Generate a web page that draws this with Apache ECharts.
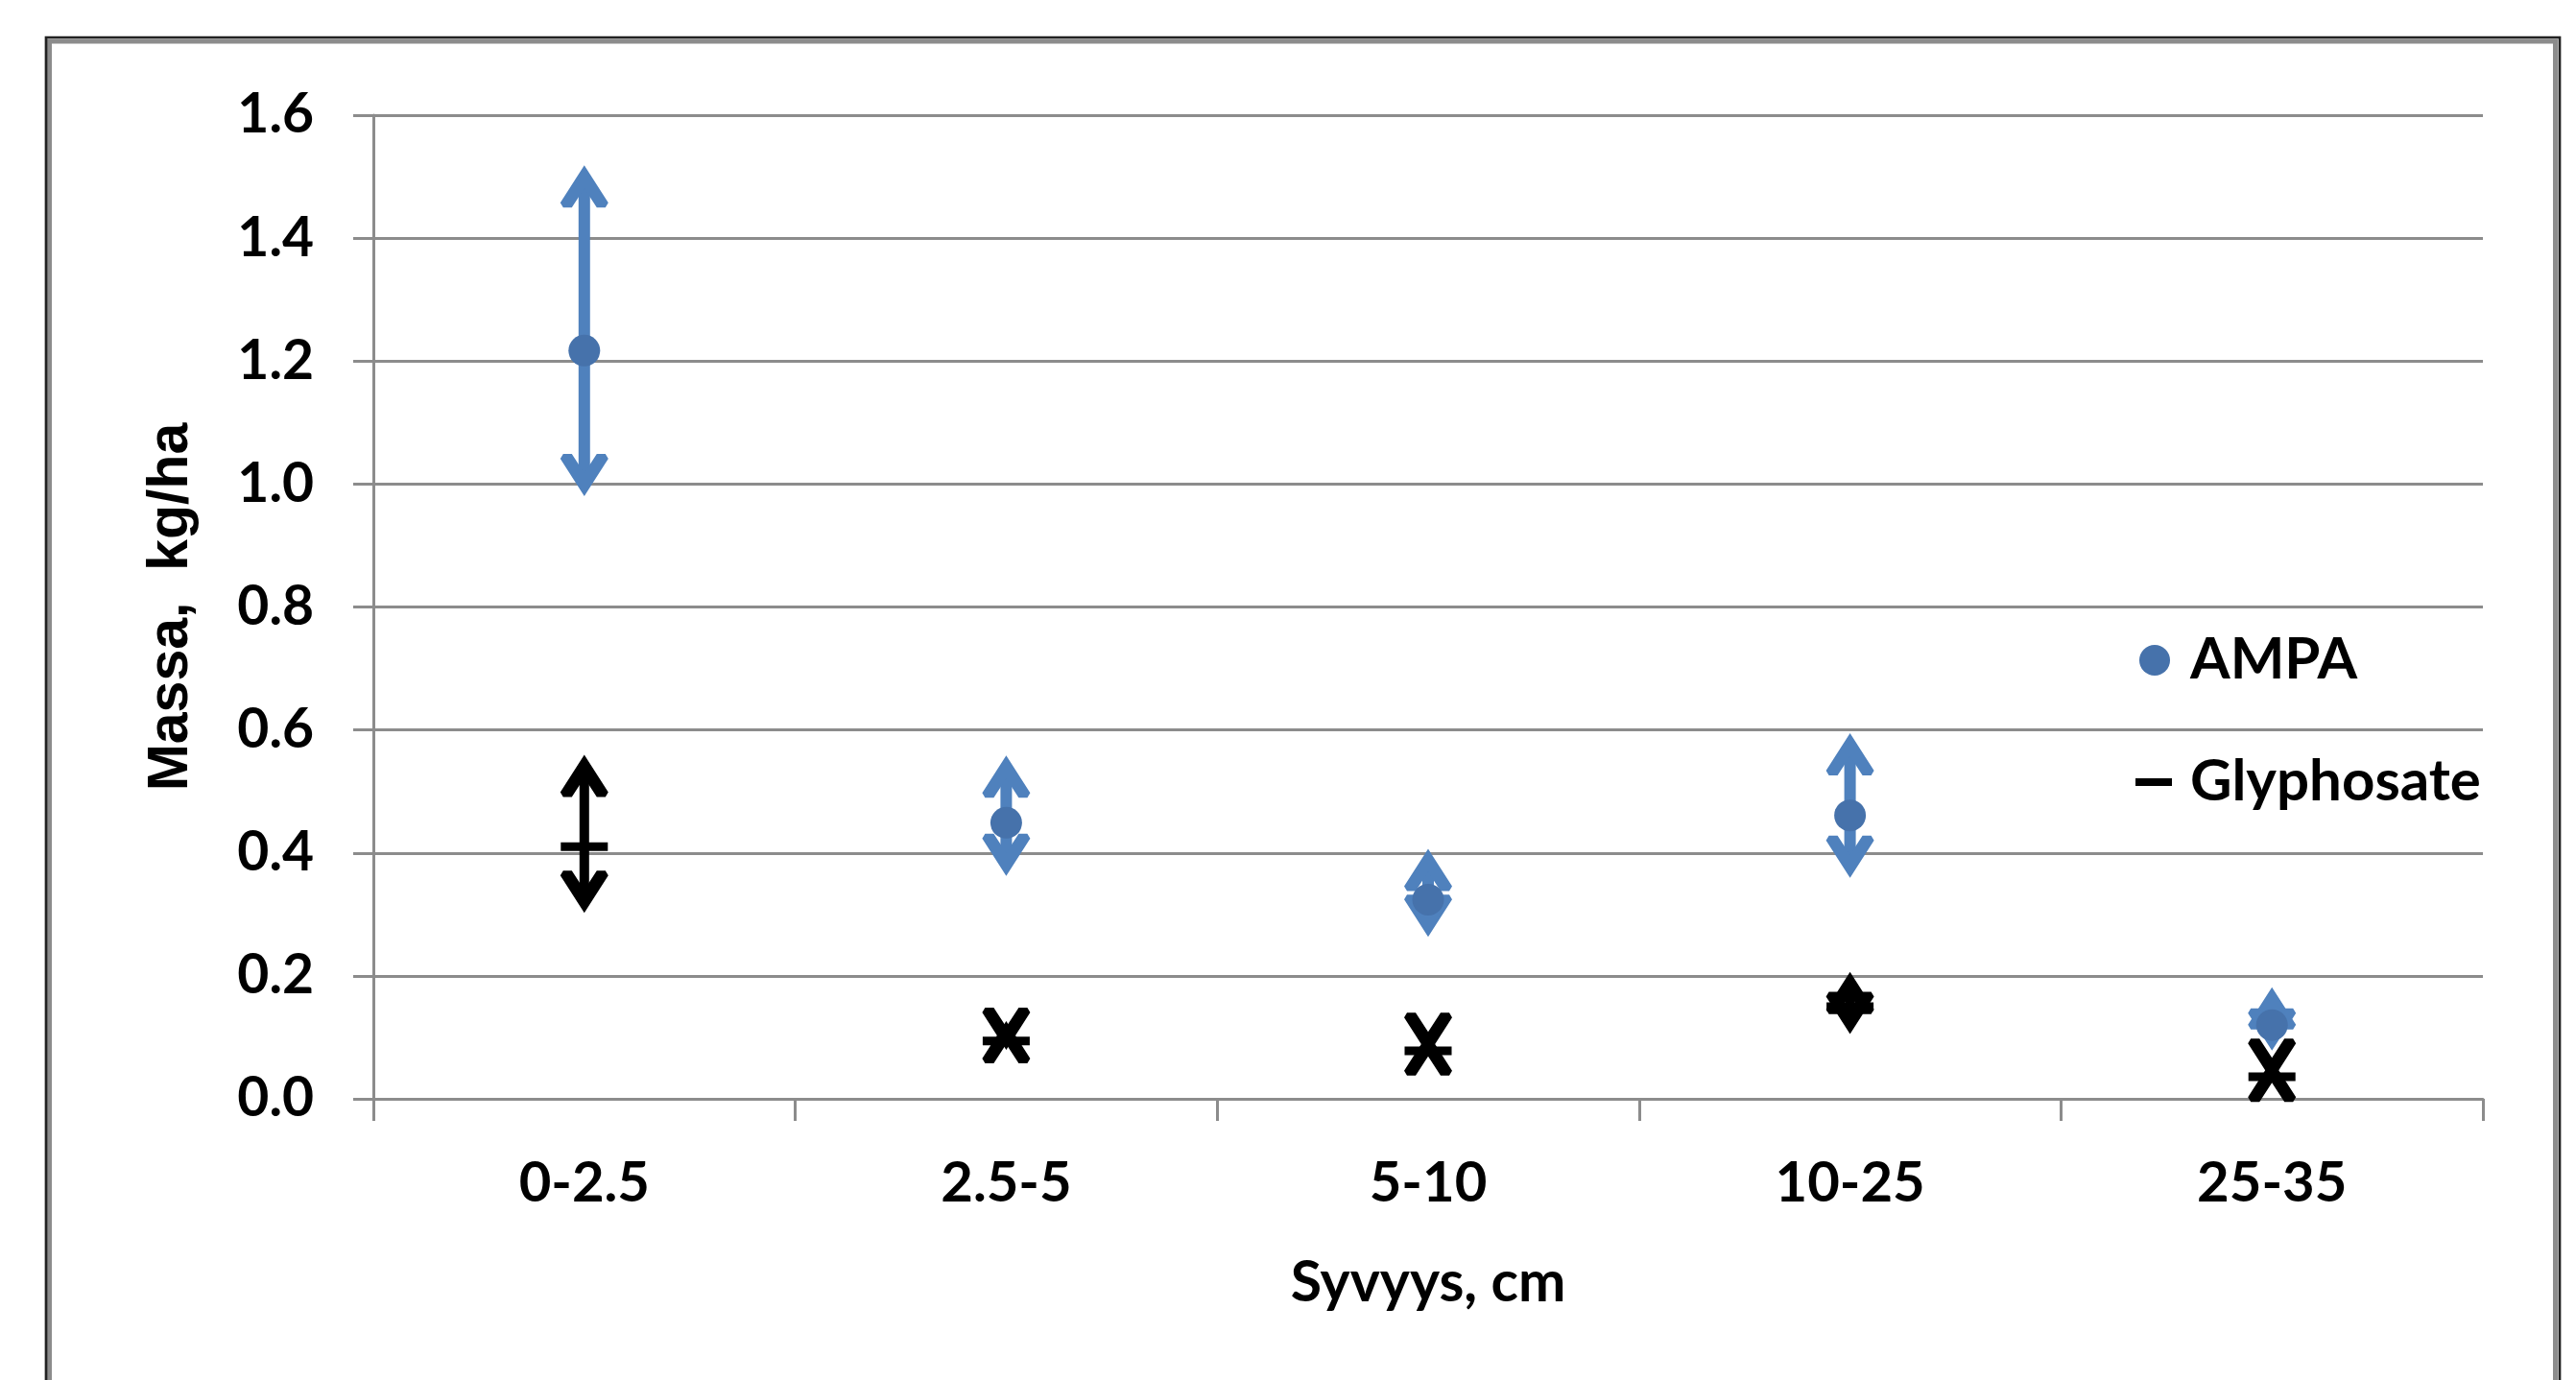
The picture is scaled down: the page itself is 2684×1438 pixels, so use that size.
<!DOCTYPE html>
<html>
<head>
<meta charset="utf-8">
<script src="https://cdn.jsdelivr.net/npm/echarts@6/dist/echarts.min.js"></script>
<style>
html,body{margin:0;padding:0;background:#fff;}
#chart{width:2684px;height:1438px;}
</style>
</head>
<body>
<div id="chart"></div>
<script>
// ---- data ----
const categories = ['0-2.5', '2.5-5', '5-10', '10-25', '25-35'];
const ampaMean = [1.217, 0.449, 0.324, 0.461, 0.12];
const ampaLow  = [0.982, 0.364, 0.265, 0.361, 0.08];
const ampaHigh = [1.517, 0.557, 0.405, 0.593, 0.18];
const glyMean  = [0.41, 0.094, 0.078, 0.15, 0.036];
const glyLow   = [0.304, 0.081, 0.073, 0.107, 0.031];
const glyHigh  = [0.558, 0.125, 0.105, 0.205, 0.062];
const yTicks = { min: 0, max: 1.6, interval: 0.2 };

const BLUE_BAR = '#4F81BD';
const BLUE_DOT = '#4672AB';

function errData(low, high) {
  return categories.map((c, i) => [i, low[i], high[i]]);
}

function makeErrRender(color, shaftW) {
  return function (params, api) {
    const i = api.value(0);
    const top = api.coord([i, api.value(2)]);
    const bot = api.coord([i, api.value(1)]);
    const x = top[0];
    const T = top[1], B = bot[1];
    return {
      type: 'group',
      children: [
        { type: 'line', shape: { x1: x, y1: T + 12, x2: x, y2: B - 12 },
          style: { stroke: color, lineWidth: shaftW } },
        { type: 'polygon', shape: { points: [
            [x, T - 1], [x + 25, T + 38], [x + 22, T + 43], [x + 13, T + 43], [x, T + 23],
            [x - 13, T + 43], [x - 22, T + 43], [x - 25, T + 38]] },
          style: { fill: color } },
        { type: 'polygon', shape: { points: [
            [x, B + 1], [x + 25, B - 38], [x + 22, B - 43], [x + 13, B - 43], [x, B - 23],
            [x - 13, B - 43], [x - 22, B - 43], [x - 25, B - 38]] },
          style: { fill: color } }
      ]
    };
  };
}

const chart = echarts.init(document.getElementById('chart'), null, { renderer: 'canvas' });
const FONT = 'Lato';
const option = {
  backgroundColor: '#fff',
  animation: false,
  grid: { left: 389, right: 97, top: 120, bottom: 293, containLabel: false },
  xAxis: {
    type: 'category',
    data: categories,
    boundaryGap: true,
    axisLine: { show: true, lineStyle: { color: '#8c8c8c', width: 3 } },
    axisTick: { show: true, length: 23, interval: 0, lineStyle: { color: '#8c8c8c', width: 3 } },
    axisLabel: { margin: 59, fontSize: 58, fontWeight: 'bold', fontFamily: FONT, color: '#000', lineHeight: 58 },
    splitLine: { show: false },
    name: 'Syvyys, cm',
    nameLocation: 'middle',
    nameGap: 163,
    nameTextStyle: { fontSize: 59, fontWeight: 'bold', fontFamily: FONT, color: '#000', lineHeight: 58 }
  },
  yAxis: {
    type: 'value',
    min: yTicks.min, max: yTicks.max, interval: yTicks.interval,
    axisLine: { show: true, lineStyle: { color: '#8c8c8c', width: 3 } },
    axisTick: { show: true, length: 21, lineStyle: { color: '#8c8c8c', width: 3 } },
    axisLabel: { margin: 62, fontSize: 57, fontWeight: 'bold', fontFamily: FONT, color: '#000',
                 formatter: v => v.toFixed(1) },
    splitLine: { show: true, lineStyle: { color: '#8c8c8c', width: 3 } },
    name: 'Massa,  kg/ha',
    nameLocation: 'middle',
    nameRotate: 90,
    nameGap: 181,
    nameTextStyle: { fontSize: 59, fontWeight: 'bold', fontFamily: 'Liberation Sans', color: '#000' }
  },
  legend: [
    { data: [{ name: 'AMPA', icon: 'circle' }], orient: 'vertical', left: 2224, top: 653,
      itemWidth: 32, itemHeight: 32, selectedMode: false,
      textStyle: { fontSize: 60, fontWeight: 'bold', fontFamily: FONT, color: '#000', padding: [0, 0, 0, 16] } },
    { data: [{ name: 'Glyphosate', icon: 'rect' }], orient: 'vertical', left: 2220, top: 780,
      itemWidth: 38, itemHeight: 8, selectedMode: false,
      textStyle: { fontSize: 60, fontWeight: 'bold', fontFamily: FONT, color: '#000', padding: [0, 0, 0, 14] } }
  ],
  series: [
    { name: 'AMPA', type: 'custom', renderItem: makeErrRender(BLUE_BAR, 12), data: errData(ampaLow, ampaHigh),
      itemStyle: { color: BLUE_DOT }, z: 2, silent: true, encode: { x: 0, y: [1, 2] } },
    { name: 'AMPA', type: 'scatter', data: ampaMean, symbol: 'circle', symbolSize: 33,
      itemStyle: { color: BLUE_DOT, opacity: 1 }, z: 3 },
    { name: 'Glyphosate', type: 'custom', renderItem: makeErrRender('#000', 10), data: errData(glyLow, glyHigh),
      itemStyle: { color: '#000' }, z: 4, silent: true, encode: { x: 0, y: [1, 2] } },
    { name: 'Glyphosate', type: 'scatter', data: glyMean, symbol: 'rect', symbolSize: [49, 9],
      itemStyle: { color: '#000', opacity: 1 }, z: 5 }
  ],
  graphic: [
    { type: 'rect', shape: { x: 51.5, y: 43, width: 2611, height: 1500 },
      style: { fill: 'none', stroke: '#8c8c8c', lineWidth: 5 }, silent: true, z: 10 },
    { type: 'rect', shape: { x: 48, y: 39, width: 2619, height: 1500 },
      style: { fill: 'none', stroke: '#222', lineWidth: 2.7 }, silent: true, z: 10 }
  ]
};
chart.setOption(option);
</script>
</body>
</html>
